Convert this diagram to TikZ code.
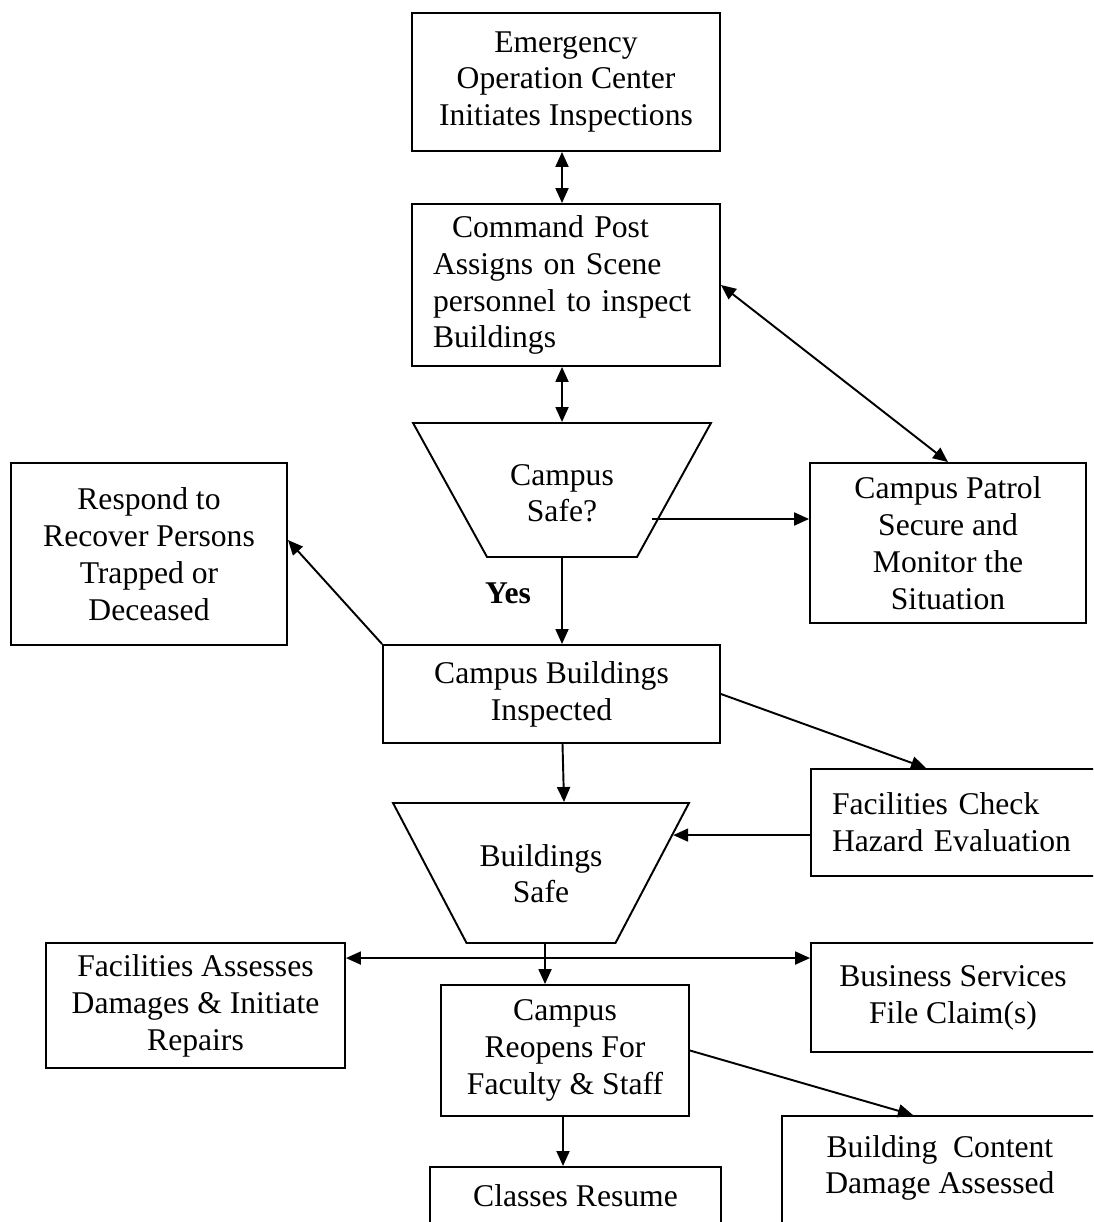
\documentclass[tikz,border=0pt]{standalone}
\usepackage{fontspec}
\setmainfont{Liberation Serif}
\usetikzlibrary{arrows.meta,positioning,shapes.geometric}

\begin{document}
\begin{tikzpicture}[x=0.02cm,y=-0.02cm,
  font=\fontsize{18}{21}\selectfont,
  box/.style={draw,line width=1.1pt,align=center,inner sep=0pt},
  funnel/.style={draw,line width=1.1pt,align=center,inner sep=0pt,
    trapezium,shape border rotate=180},
  link/.style={line width=1.1pt,-{Triangle[length=0.3cm,width=0.26cm]}},
  link2/.style={line width=1.1pt,
    {Triangle[length=0.3cm,width=0.26cm]}-{Triangle[length=0.3cm,width=0.26cm]}}]
\useasboundingbox (0,0) rectangle (1093,1222);
\clip (0,0) rectangle (1093,1222);

% upper part
\node[box,minimum width=6.16cm,minimum height=2.76cm] (eoc) at (566,82)
  {Emergency\\Operation Center\\Initiates Inspections};
\node[box,align=left,text width=5.32cm,inner xsep=0.42cm,minimum height=3.24cm] (cmd) at (566,285)
  {\hspace{0.38cm}Command Post\\Assigns on Scene\\personnel to inspect\\Buildings};
\node[funnel,text width=3cm,text height=1.24cm,text depth=1.44cm,
  trapezium left angle=61.1,trapezium right angle=61.1] (safe) at (562,490) {Campus\\Safe?};
\node[box,minimum width=5.52cm,minimum height=3.2cm] (patrol) at (948,543)
  {Campus Patrol\\Secure and\\Monitor the\\Situation};
\node[box,minimum width=5.52cm,minimum height=3.64cm] (respond) at (149,554)
  {Respond to\\Recover Persons\\Trapped or\\Deceased};
\node (yes) at (508,593) {\bfseries Yes};

% middle part
\node[box,minimum width=6.74cm,minimum height=1.96cm] (insp) at (551.5,694)
  {Campus Buildings\\Inspected};
\node[box,align=left,text width=4.84cm,inner xsep=0.42cm,minimum height=2.14cm] (fcheck) at (953,822.5)
  {Facilities Check\\Hazard Evaluation};
\node[funnel,text width=2.98cm,text height=1.26cm,text depth=1.54cm,
  trapezium left angle=62.3,trapezium right angle=62.3] (bsafe) at (541,873) {Buildings\\Safe};

% lower part
\node[box,minimum width=5.98cm,minimum height=2.5cm] (fassess) at (195.5,1005.5)
  {Facilities Assesses\\Damages \& Initiate\\Repairs};
\node[box,minimum width=5.68cm,minimum height=2.18cm] (bserv) at (953,997.5)
  {Business Services\\File Claim(s)};
\node[box,minimum width=4.96cm,minimum height=2.62cm] (reopen) at (565,1050.5)
  {Campus\\Reopens For\\Faculty \& Staff};
\node[box,anchor=north,minimum width=5.82cm,text height=0.8cm,text depth=1cm] (classes) at (575.5,1166)
  {Classes Resume};
\node[box,anchor=north west,minimum width=6.32cm,text height=1.56cm,text depth=1.2cm] (content) at (781,1115)
  {Building\ \ Content\\Damage Assessed};

% connectors
\coordinate (sp) at ([shift={(90,29)}]safe.center);
\draw[link2] ([xshift=-0.08cm]eoc.south) -- ([xshift=-0.08cm]cmd.north);
\draw[link2] (cmd.south -| safe.north) -- (safe.north);
\draw[link2] (cmd.east) -- (patrol.north);
\draw[link] (sp) -- (sp -| patrol.west);
\draw[link] (safe.south) -- (safe.south |- insp.north);
\draw[link] (insp.north west) -- ([yshift=0.28cm]respond.east);
\draw[link] (insp.east) -- ([xshift=2.32cm]fcheck.north west);
\draw[link] ([xshift=0.22cm]insp.south) -- ([xshift=0.46cm]bsafe.north);
\draw[link] (fcheck.west |- bsafe.16) -- (bsafe.16);
\draw[link2] ([yshift=-0.32cm]fassess.north east) -- ([yshift=-0.32cm]fassess.north east -| bserv.west);
\draw[link] ([xshift=0.08cm]bsafe.south) -- ([xshift=0.08cm]bsafe.south |- reopen.north);
\draw[link] ([xshift=-0.04cm]reopen.south) -- ([xshift=-0.04cm]reopen.south |- classes.north);
\draw[link] (reopen.east) -- ([xshift=2.64cm]content.north west);
\end{tikzpicture}
\end{document}
